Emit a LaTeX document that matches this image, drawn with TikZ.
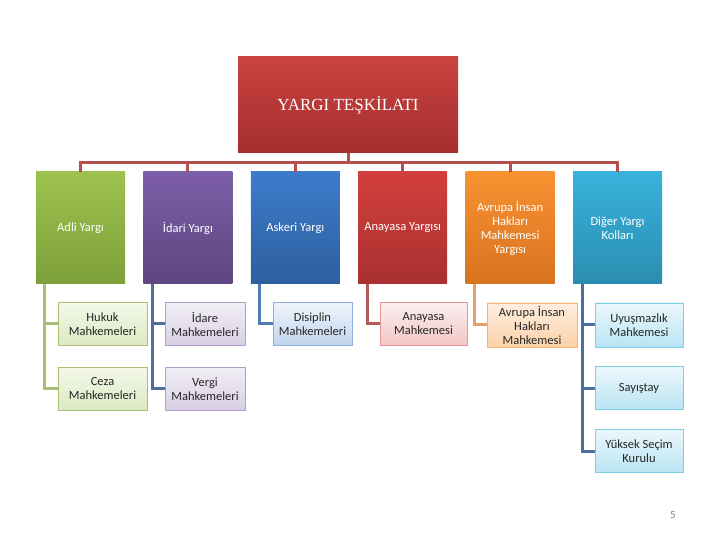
\documentclass[tikz,border=0pt]{standalone}
\usepackage{fontspec}
\setmainfont{Carlito}
\newfontfamily\titlefont{Liberation Serif}
\usetikzlibrary{positioning}
% seviye 1 renkleri (ust / alt)
\definecolor{HeadT}{HTML}{C94240}\definecolor{HeadB}{HTML}{A52F2E}
\definecolor{GrnT}{HTML}{9DC24E}\definecolor{GrnB}{HTML}{7DA03A}
\definecolor{PrpT}{HTML}{7D5EA8}\definecolor{PrpB}{HTML}{5E4680}
\definecolor{BluT}{HTML}{3D7CCB}\definecolor{BluB}{HTML}{2D5F9E}
\definecolor{RedT}{HTML}{D23F3D}\definecolor{RedB}{HTML}{A93130}
\definecolor{OrgT}{HTML}{F79232}\definecolor{OrgB}{HTML}{D8731F}
\definecolor{TelT}{HTML}{38B2DC}\definecolor{TelB}{HTML}{2A8DB0}
% baglanti cizgileri
\definecolor{Bus}{HTML}{B54F4D}
\definecolor{GrnL}{HTML}{A9BE77}
\definecolor{PrpL}{HTML}{4F6FA0}
\definecolor{BluL}{HTML}{4F7CB5}
\definecolor{RedL}{HTML}{B25A58}
\definecolor{OrgL}{HTML}{E7A068}
\definecolor{TelL}{HTML}{4C6E9E}

\begin{document}
\begin{tikzpicture}[x=1pt,y=1pt,
    hd/.style={top color=HeadT,bottom color=HeadB,minimum width=220pt,minimum height=96pt,text=white,font=\titlefont\fontsize{17}{19}\selectfont},
    kol/.style={minimum width=89pt,minimum height=112pt,inner sep=1pt,align=center,text=white,font=\fontsize{12.5}{14}\selectfont},
    alt/.style={draw,line width=0.8pt,minimum width=88pt,minimum height=43pt,inner sep=1pt,align=center,text=black!85,font=\fontsize{12.5}{14}\selectfont},
    bus/.style={draw=Bus,line width=3pt},
    ln/.style={line width=3pt}]
    \useasboundingbox (0,0) rectangle (720,540);
    \node[hd] (t) at (348,435) {YARGI TEŞKİLATI};
    \node[kol,top color=GrnT,bottom color=GrnB] (a) at (80.5,312) {Adli Yargı};
    \node[kol,top color=PrpT,bottom color=PrpB,right=18pt of a] (b) {İdari Yargı};
    \node[kol,top color=BluT,bottom color=BluB,right=18pt of b] (c) {Askeri Yargı};
    \node[kol,top color=RedT,bottom color=RedB,right=18pt of c] (d) {Anayasa Yargısı};
    \node[kol,top color=OrgT,bottom color=OrgB,right=18pt of d] (e) {Avrupa İnsan\\Hakları\\Mahkemesi\\Yargısı};
    \node[kol,top color=TelT,bottom color=TelB,right=18pt of e] (f) {Diğer Yargı\\Kolları};
    \foreach \k in {a,b,c,d,e,f}
      \draw[bus] (t.south) -- ++(0,-9) -| (\k.north);
    % alt birimler
    \node[alt,draw=GrnL,top color=GrnT!12,bottom color=GrnT!35,minimum width=89pt] (a1) at (102.5,216) {Hukuk\\Mahkemeleri};
    \node[alt,draw=GrnL,top color=GrnT!12,bottom color=GrnT!35,minimum width=89pt,below=21pt of a1] (a2) {Ceza\\Mahkemeleri};
    \node[alt,draw=PrpT!60,top color=PrpT!10,bottom color=PrpT!30,minimum width=80pt] (b1) at (205,216) {İdare\\Mahkemeleri};
    \node[alt,draw=PrpT!60,top color=PrpT!10,bottom color=PrpT!30,minimum width=80pt,below=21pt of b1] (b2) {Vergi\\Mahkemeleri};
    \node[alt,draw=BluT!60,top color=BluT!8,bottom color=BluT!32,minimum width=79pt] (c1) at (312.5,216) {Disiplin\\Mahkemeleri};
    \node[alt,draw=RedT!55,top color=RedT!8,bottom color=RedT!30,minimum width=87pt] (d1) at (423.5,216) {Anayasa\\Mahkemesi};
    \node[alt,draw=OrgT!70,top color=OrgT!15,bottom color=OrgT!42,minimum width=90pt,minimum height=44pt] (e1) at (532,215) {Avrupa İnsan\\Hakları\\Mahkemesi};
    \node[alt,draw=TelT!65,top color=TelT!10,bottom color=TelT!35,minimum height=44pt] (f1) at (639,215) {Uyuşmazlık\\Mahkemesi};
    \node[alt,draw=TelT!65,top color=TelT!10,bottom color=TelT!35,below=19pt of f1] (f2) {Sayıştay};
    \node[alt,draw=TelT!65,top color=TelT!10,bottom color=TelT!35,below=19pt of f2] (f3) {Yüksek Seçim\\Kurulu};
    \draw[ln,GrnL] ([xshift=9pt]a.south west) |- (a1.west);
    \draw[ln,GrnL] ([xshift=9pt]a.south west) |- (a2.west);
    \draw[ln,PrpL] ([xshift=9pt]b.south west) |- (b1.west);
    \draw[ln,PrpL] ([xshift=9pt]b.south west) |- (b2.west);
    \draw[ln,BluL] ([xshift=9pt]c.south west) |- (c1.west);
    \draw[ln,RedL] ([xshift=9pt]d.south west) |- (d1.west);
    \draw[ln,OrgL] ([xshift=9.5pt]e.south west) |- (e1.west);
    \foreach \s in {f1,f2,f3}
      \draw[ln,TelL] ([xshift=9.5pt]f.south west) |- (\s.west);
    \node[text=gray,font=\fontsize{11}{12}\selectfont] (pg) at (673,25) {5};
\end{tikzpicture}
\end{document}
